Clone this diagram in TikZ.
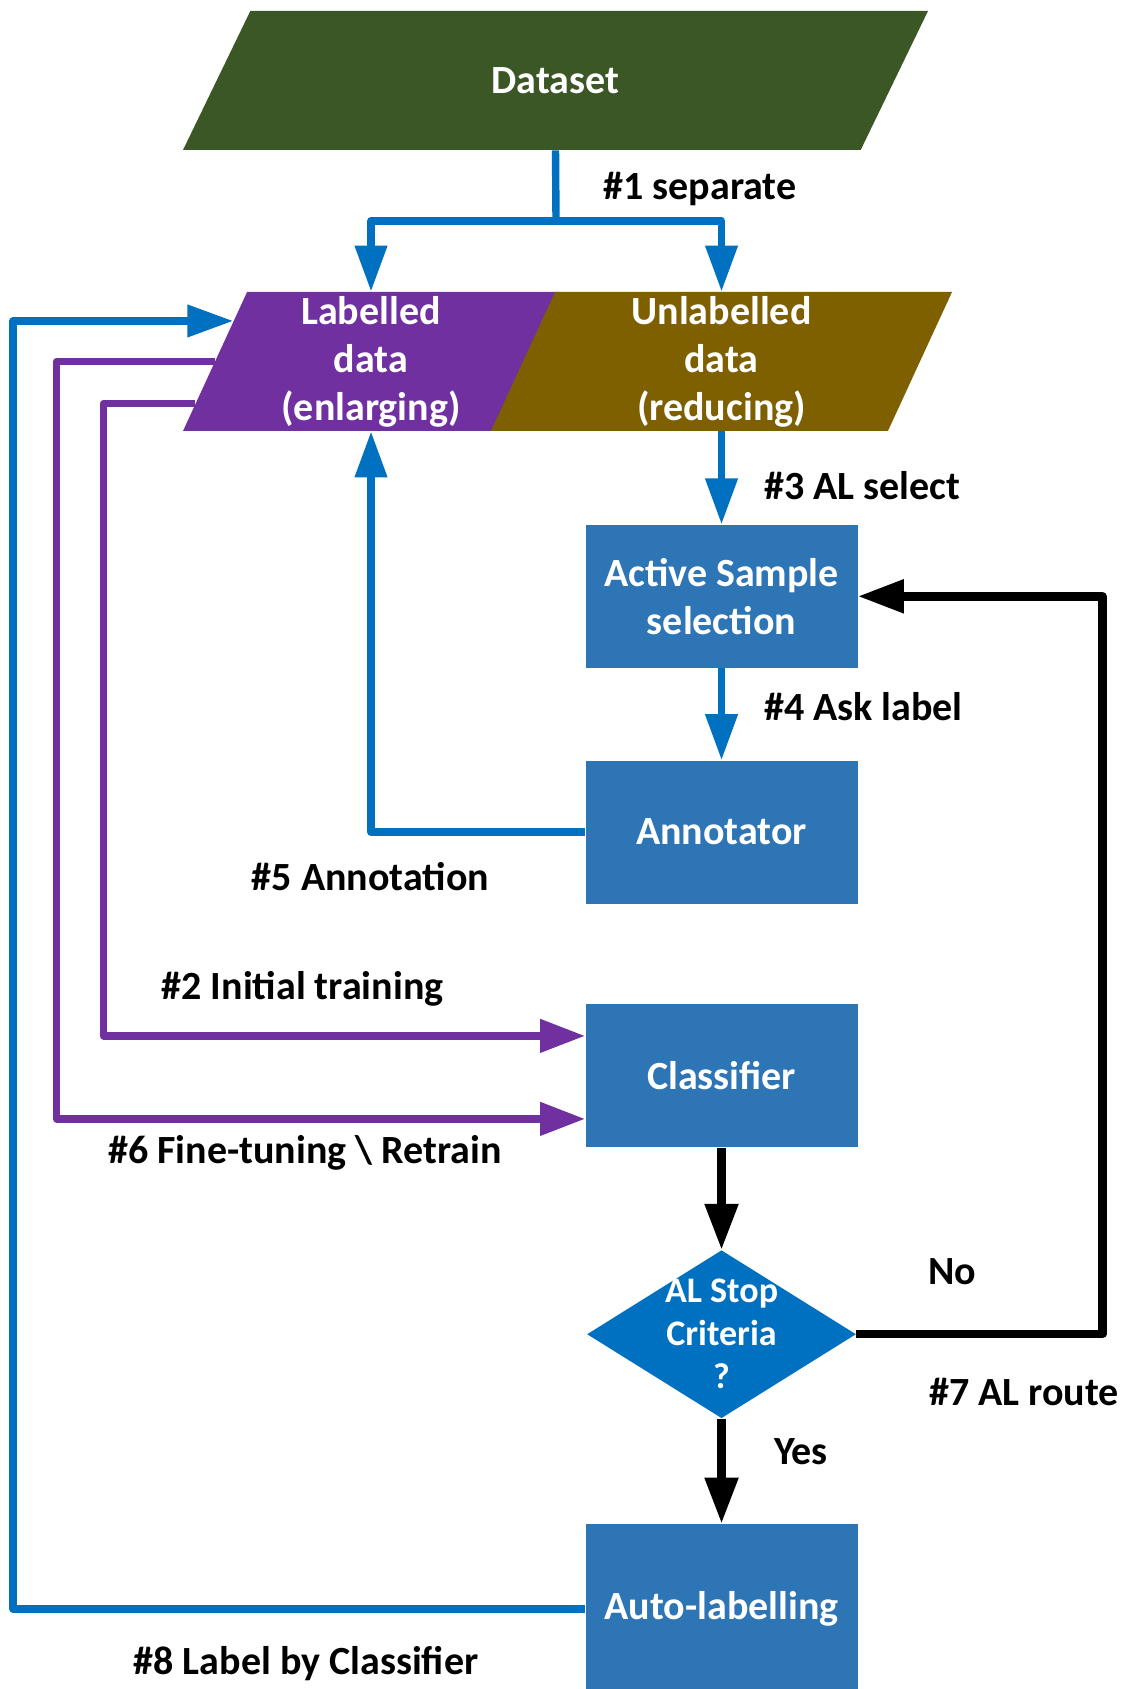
\documentclass[tikz,border=0pt]{standalone}
\usepackage{fontspec}
\setmainfont{Carlito}
\usetikzlibrary{positioning, arrows.meta, shapes.geometric, calc}
\definecolor{dsgreen}{HTML}{3B5726}
\definecolor{labpurple}{HTML}{7030A0}
\definecolor{unlabolive}{HTML}{7F6000}
\definecolor{boxblue}{HTML}{2E75B6}
\definecolor{lineblue}{HTML}{0070C0}
\tikzset{
    txt/.style={font=\bfseries\fontsize{20}{24}\selectfont, align=center},
    para/.style={trapezium, trapezium left angle=63.9, trapezium right angle=116.1,
      trapezium stretches body=true, inner sep=0pt, minimum height=69.5pt, text=white, txt},
    block/.style={rectangle, fill=boxblue, text=white, minimum width=136pt,
      minimum height=71.5pt, inner sep=0pt, txt},
    decision/.style={diamond, fill=lineblue, minimum width=134.5pt, minimum height=84pt, inner sep=0pt},
    lbl/.style={txt, text=black},
    bline/.style={draw=lineblue, line width=3.7pt, line join=round, -{Triangle[length=23pt,width=15.5pt]}},
    pline/.style={draw=labpurple, line width=3.7pt, line join=round, -{Triangle[length=22.5pt,width=16pt]}},
    kline/.style={draw=black, line width=4.2pt, line join=round, -{Triangle[length=23pt,width=16pt]}},
}

\begin{document}
\begin{tikzpicture}[x=0.5pt, y=-0.5pt, node distance=40pt]
    \useasboundingbox (0,0) rectangle (1132,1689);

    % data
    \node[para, fill=dsgreen, minimum width=372.5pt, inner ysep=27.8pt] (ds) at (555.5,80.5) {Dataset};
    \node[para, fill=labpurple, minimum width=188pt] (lab) at (371,361.5) {Labelled\\data\\(enlarging)};
    \node[para, fill=unlabolive, minimum width=230.5pt] (unlab) at (721.5,361.5) {Unlabelled\\data\\(reducing)};

    % process
    \node[block, below=46.5pt of unlab] (act) {Active Sample\\selection};
    \node[block, below=46pt of act] (ann) {Annotator};
    \node[block, below=50pt of ann] (cls) {Classifier};
    \node[decision, below=51pt of cls,
      label={[txt, text=white, font=\bfseries\fontsize{18}{21.5}\selectfont]center:{AL Stop\\Criteria\\?}}] (stop) {};
    \node[block, below=52.5pt of stop, minimum height=85pt] (auto) {Auto-labelling};

    % #1
    \coordinate (split) at (556,221);
    \draw[bline, -] (ds.south) -- (split);
    \draw[bline] (split) -| (lab);
    \draw[bline] (split) -| (unlab);
    \node[lbl] (l1) at (700,188.5) {\#1 separate};

    % #3, #4, #5
    \draw[bline] (unlab.south) -- (act.north);
    \node[lbl, anchor=west] (l3) at (757,486) {\#3 AL select};
    \draw[bline] (act) -- (ann);
    \node[lbl, anchor=west] (l4) at (757,706.5) {\#4 Ask label};
    \draw[bline] (ann.west) -| (lab);
    \node[lbl] (l5) at (370.5,877) {\#5 Annotation};

    % #2, #6
    \draw[pline] ($(lab.bottom left corner)!0.2!(lab.top left corner)$) -- ++(-91.5,0) |- ([yshift=20pt]cls.west);
    \node[lbl] (l2) at (302.5,988.5) {\#2 Initial training};
    \draw[pline] (lab.west) -- ++(-158,0) |- ([yshift=-21.5pt]cls.west);
    \node[lbl] (l6) at (305,1152.5) {\#6 Fine-tuning \textbackslash{} Retrain};

    % #7
    \draw[kline] (cls) -- (stop);
    \draw[kline] (stop.east) -- ++(246,0) |- (act.east);
    \node[lbl] (no) at (952,1272) {No};
    \node[lbl] (l7) at (1024,1391.5) {\#7 AL route};
    \draw[kline] (stop.south) -- (auto.north);
    \node[lbl] (yes) at (801,1452) {Yes};

    % #8
    \draw[bline] (auto.west) -- ++(-572,0) |- ($(lab.bottom left corner)!0.79!(lab.top left corner)$);
    \node[lbl] (l8) at (306,1664) {\#8 Label by Classifier};
\end{tikzpicture}
\end{document}
